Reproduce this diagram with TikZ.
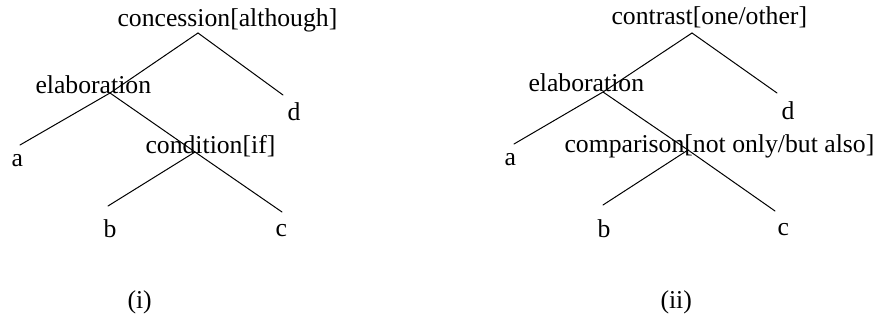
\documentclass[tikz,border=0pt]{standalone}
\usepackage{fontspec}
\setmainfont{Liberation Serif}
\usepackage{tikz}

\tikzset{lbl/.style={anchor=base west, inner sep=0pt, font=\fontsize{12.85}{15}\selectfont}}

\begin{document}
\begin{tikzpicture}[line cap=round, x=0.5pt, y=-0.5pt, line width=0.5pt]
            \useasboundingbox (0,0) rectangle (877,320);
            % tree (i)
            \node[lbl] (ra) at (117,27) {concession[although]};
            \node[lbl] (ea) at (35,94) {elaboration};
            \node[lbl] (ca) at (145,154) {condition[if]};
            \node[lbl] (da) at (287,121) {d};
            \node[lbl] (aa) at (11,167) {a};
            \node[lbl] (ba) at (103,237) {b};
            \node[lbl] (cca) at (275,236) {c};
            \node[lbl] (ia) at (127,308) {(i)};
            \coordinate (rta) at (198,33);   %root
            \coordinate (eta) at (110,93);   %elab
            \coordinate (cta) at (195,152);  %cond
            \coordinate (la) at (20,145);
            \coordinate (ldx) at (283,95);
            \coordinate (lb) at (108,206);
            \coordinate (lc) at (282,212);
            \draw (rta) -- (eta);
            \draw (rta) -- (ldx);
            \draw (eta) -- (la);
            \draw (eta) -- (cta);
            \draw (cta) -- (lb);
            \draw (cta) -- (lc);
            % tree (ii)
            \node[lbl] (rb) at (611,25) {contrast[one/other]};
            \node[lbl] (eb) at (528,92) {elaboration};
            \node[lbl] (cb) at (564,153) {comparison[not only/but also]};
            \node[lbl] (db) at (781,120) {d};
            \node[lbl] (ab) at (504,166) {a};
            \node[lbl] (bb) at (597,237) {b};
            \node[lbl] (ccb) at (777,235) {c};
            \node[lbl] (iib) at (660,308) {(ii)};
            \coordinate (rtb) at (692,33);   %root
            \coordinate (etb) at (603,92);   %elab
            \coordinate (ctb) at (688,150);  %comp
            \coordinate (ma) at (514,144);
            \coordinate (mdx) at (777,93);
            \coordinate (mb) at (603,205);
            \coordinate (mc) at (775,211);
            \draw (rtb) -- (etb);
            \draw (rtb) -- (mdx);
            \draw (etb) -- (ma);
            \draw (etb) -- (ctb);
            \draw (ctb) -- (mb);
            \draw (ctb) -- (mc);
\end{tikzpicture}
\end{document}
